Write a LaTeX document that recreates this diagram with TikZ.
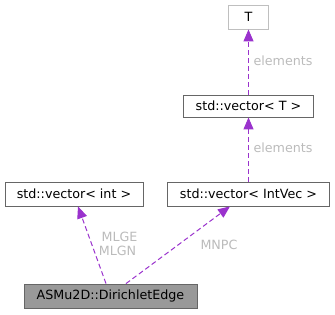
\documentclass[tikz,border=0pt]{standalone}
\usepackage{fontspec}
\setmainfont{DejaVu Sans}
\usetikzlibrary{arrows.meta,calc}
\definecolor{edgecol}{HTML}{9A32CD}
\definecolor{labcol}{HTML}{BBBBBB}
\definecolor{boxcol}{HTML}{666666}
\definecolor{fillgray}{HTML}{999999}
\begin{document}
\begin{tikzpicture}[x=1pt,y=1pt,
  cls/.style={draw=boxcol,fill=white,line width=0.8pt,inner sep=0pt,font=\fontsize{12.7}{15}\selectfont},
  edge/.style={draw=edgecol,line width=1pt,dash pattern=on 5pt off 3pt,-{Triangle[length=12pt,width=10pt,fill=edgecol]}},
  lab/.style={text=labcol,font=\fontsize{12.7}{15}\selectfont,inner sep=0pt}]
\useasboundingbox (0,0) rectangle (335,-315);
\node[cls,draw=gray!50,minimum width=40pt,minimum height=24pt] (T) at (248.5,-17) {T};
\node[cls,minimum width=130pt,minimum height=22pt] (vecT) at (248.5,-106) {std::vector< T >};
\node[cls,minimum width=138pt,minimum height=24pt] (vecint) at (74,-194) {std::vector< int >};
\node[cls,minimum width=162pt,minimum height=24pt] (vecIV) at (248.5,-194) {std::vector< IntVec >};
\node[cls,fill=fillgray,minimum width=173pt,minimum height=24pt] (DE) at (110.5,-296) {ASMu2D::DirichletEdge};
\draw[edge] ($(DE.north)+(-4.5,0)$) -- ($(vecint.south)+(4,0)$);
\draw[edge] ($(DE.north)+(15.5,0)$) -- ($(vecIV.south)+(-18.5,0)$);
\draw[edge] (vecIV.north) -- (vecT.south);
\draw[edge] (vecT.north) -- (T.south);
\node[lab] (l1) at (119.5,-237) {MLGE};
\node[lab] (l2) at (117.5,-251) {MLGN};
\node[lab] (l3) at (219,-245) {MNPC};
\node[lab] (l4) at (283,-61) {elements};
\node[lab] (l5) at (283,-148) {elements};
\end{tikzpicture}
\end{document}
